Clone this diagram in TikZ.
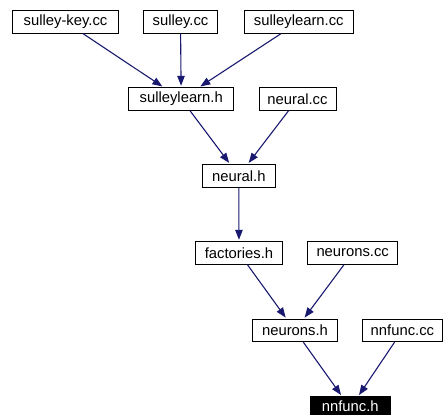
\documentclass[tikz,border=0pt]{standalone}
\usepackage{fontspec}
\setmainfont{Liberation Sans}
\usetikzlibrary{arrows.meta}
\definecolor{edgeblue}{HTML}{191970}
\tikzset{
  file/.style={draw=black, line width=0.9pt, fill=white, inner sep=0pt,
    minimum height=22.5pt, anchor=center,
    font=\fontsize{14.8}{16}\selectfont},
  current/.style={file, fill=black, text=white},
  dep/.style={draw=edgeblue, line width=1.1pt, shorten >=1.5pt,
    -{Triangle[length=10pt,width=7.5pt]}},
}
\begin{document}
\begin{tikzpicture}[x=1pt, y=-1pt]
  \useasboundingbox (0,0) rectangle (443,414);
  \clip (0,0) rectangle (443,414);

  % source and header files
  \node[file, minimum width=105.6pt] (sk)   at (65.5,22)    {sulley-key.cc};
  \node[file, minimum width=74.4pt]  (sy)   at (180.5,22)   {sulley.cc};
  \node[file, minimum width=109.7pt] (slc)  at (298.8,22)   {sulleylearn.cc};
  \node[file, minimum width=105pt]   (slh)  at (181.2,99)   {sulleylearn.h};
  \node[file, minimum width=77pt]    (ncc)  at (297.5,99)   {neural.cc};
  \node[file, minimum width=73pt]    (nh)   at (238.8,175.8){neural.h};
  \node[file, minimum width=87.4pt]  (fh)   at (239,253)    {factories.h};
  \node[file, minimum width=90pt]    (nscc) at (352.7,253)  {neurons.cc};
  \node[file, minimum width=85.4pt]  (nsh)  at (295,330.5)  {neurons.h};
  \node[file, minimum width=80.2pt]  (nfcc) at (402.4,330.5){nnfunc.cc};
  \node[current, minimum width=80.5pt] (nfh) at (350.3,408) {\raisebox{3pt}{nnfunc.h}};

  % include dependencies
  \draw[dep] (sk)   -- (slh);
  \draw[dep] (sy)   -- (slh);
  \draw[dep] (slc)  -- (slh);
  \draw[dep] (slh)  -- (nh);
  \draw[dep] (ncc)  -- (nh);
  \draw[dep] (nh)   -- (fh);
  \draw[dep] (fh)   -- (nsh);
  \draw[dep] (nscc) -- (nsh);
  \draw[dep] (nsh)  -- (nfh);
  \draw[dep] (nfcc) -- (nfh);
\end{tikzpicture}
\end{document}
